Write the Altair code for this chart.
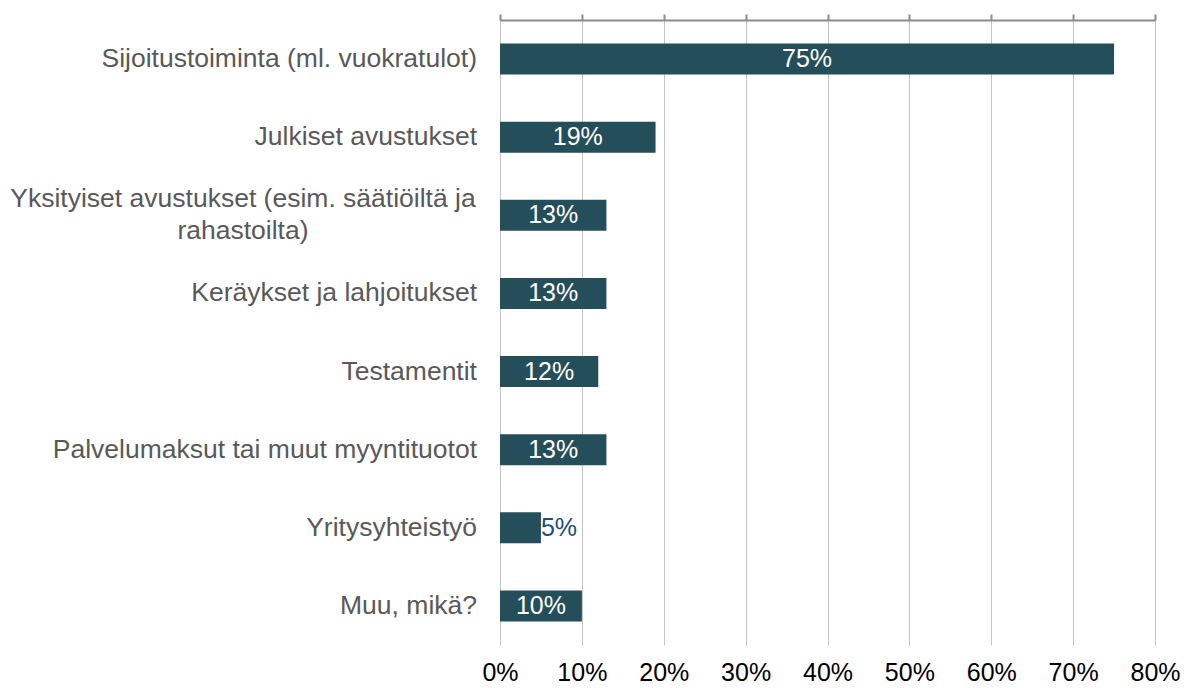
import altair as alt
import pandas as pd

categories = [
    "Sijoitustoiminta (ml. vuokratulot)",
    "Julkiset avustukset",
    "Yksityiset avustukset (esim. säätiöiltä ja|rahastoilta)",
    "Keräykset ja lahjoitukset",
    "Testamentit",
    "Palvelumaksut tai muut myyntituotot",
    "Yritysyhteistyö",
    "Muu, mikä?",
]
values = [75, 19, 13, 13, 12, 13, 5, 10]
value_labels = ["75%", "19%", "13%", "13%", "12%", "13%", "5%", "10%"]
inside = [True, True, True, True, True, True, False, True]
x_ticks = [0, 10, 20, 30, 40, 50, 60, 70, 80]

df = pd.DataFrame({"cat": categories, "val": values, "lab": value_labels, "inside": inside})

FONT = "Liberation Sans"
BAR = "#244e5a"
AX = "#8c8c8c"

xscale = alt.Scale(domain=[0, 80], nice=False, zero=True)

base = alt.Chart(df)

bars = base.mark_bar(color=BAR, size=31).encode(
    x=alt.X("val:Q", scale=xscale, title=None,
            axis=alt.Axis(orient="top", labels=False, ticks=True, tickSize=6, tickColor=AX,
                          tickWidth=2, domain=True, domainColor=AX, domainWidth=2,
                          grid=True, gridColor="#c4c4c4", gridWidth=1, values=x_ticks)),
    y=alt.Y("cat:N", sort=categories, title=None,
            axis=alt.Axis(orient="left", labels=False, domain=True, domainColor=AX, domainWidth=2,
                          ticks=True, tickBand="extent", tickSize=7, tickColor=AX, tickWidth=2,
                          grid=False)),
)

inner_text = base.transform_filter("datum.inside").transform_calculate(pos="datum.val/2").mark_text(
    color="white", font=FONT, fontSize=25, align="center", baseline="middle"
).encode(
    x=alt.X("pos:Q", scale=xscale, title=None,
            axis=alt.Axis(orient="bottom", labels=True, ticks=False, domain=False, grid=False,
                          labelExpr="datum.value + '%'", labelFont=FONT, labelFontSize=25,
                          labelFlush=False, labelOverlap=False, labelAlign="center",
                          labelColor="#000000", labelPadding=15, values=x_ticks)),
    y=alt.Y("cat:N", sort=categories, axis=None),
    text="lab:N",
)

outer_text = base.transform_filter("!datum.inside").mark_text(
    color="#1f4e79", font=FONT, fontSize=25, align="left", baseline="middle", dx=0
).encode(
    x=alt.X("val:Q", scale=xscale, axis=None),
    y=alt.Y("cat:N", sort=categories, axis=None),
    text="lab:N",
)

single_labels = base.transform_filter("indexof(datum.cat, '|') < 0").mark_text(
    color="#595959", font=FONT, fontSize=26.5, align="right", baseline="middle"
).encode(
    x=alt.value(-23),
    y=alt.Y("cat:N", sort=categories, axis=None),
    text="cat:N",
)

wrapped_labels = base.transform_filter("indexof(datum.cat, '|') >= 0").mark_text(
    color="#595959", font=FONT, fontSize=26.5, align="center", baseline="middle", lineBreak="|",
    lineHeight=32, dy=-16
).encode(
    x=alt.value(-257),
    y=alt.Y("cat:N", sort=categories, axis=None),
    text="cat:N",
)

chart = alt.layer(bars, inner_text, outer_text, single_labels, wrapped_labels).resolve_axis(
    x="independent"
).properties(
    width=655, height=625,
    autosize=alt.AutoSizeParams(type="none"),
    padding={"left": 492, "top": 12, "right": 30, "bottom": 45},
).configure_view(stroke=None)

chart.save("out.html", embed_options={"renderer": "svg", "actions": False})
